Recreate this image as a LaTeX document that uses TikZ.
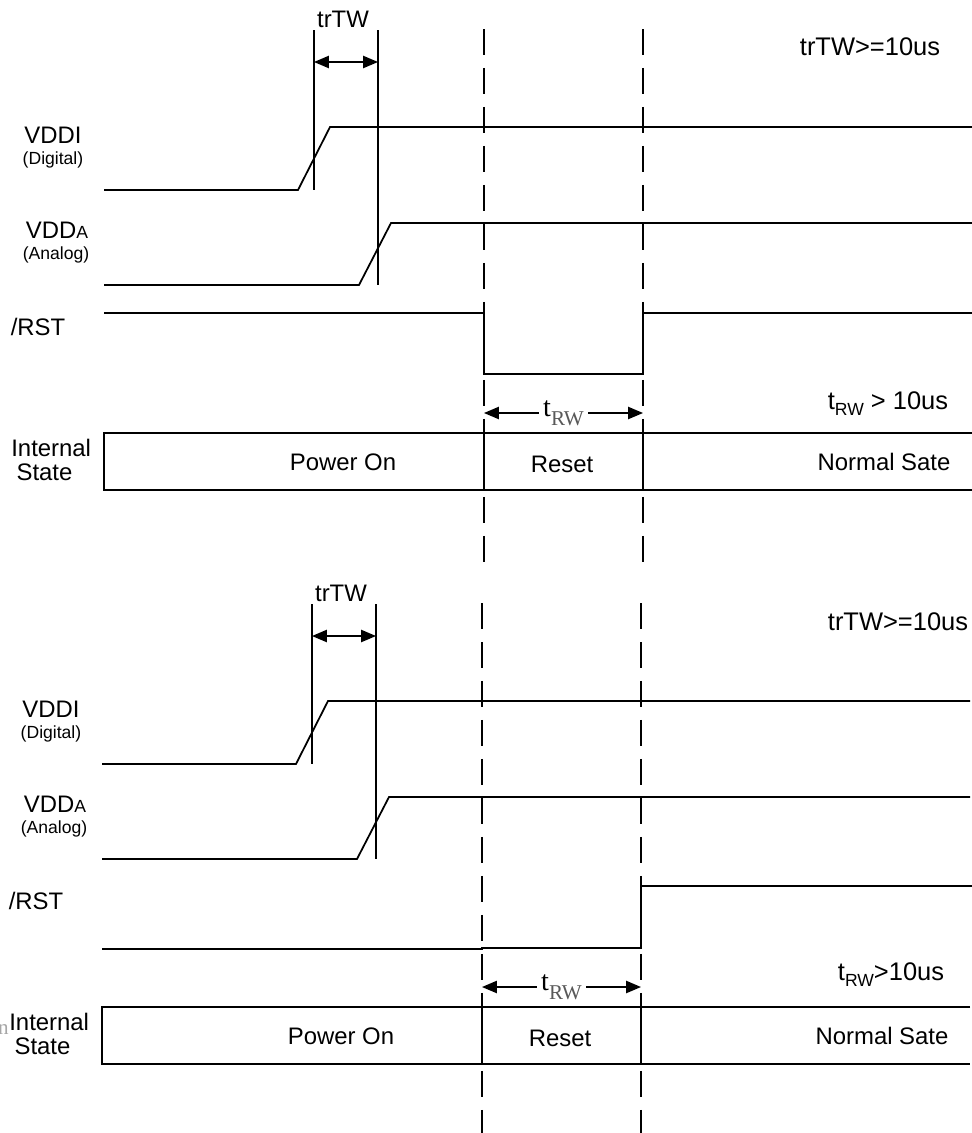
\documentclass[tikz,border=0pt]{standalone}
\usepackage{fontspec}
\setmainfont{Liberation Sans}
\newfontfamily\timesrw{Liberation Serif}
\usetikzlibrary{arrows.meta}
\tikzset{
  % signal trace
  wave/.style={line width=1pt, line join=miter},
  % thin timing marker
  marker/.style={line width=0.8pt},
  % long dashed guide through the rows
  guide/.style={line width=1.7pt, dash pattern=on 0.52cm off 0.26cm},
  % double headed dimension arrow
  dimarrow/.style={line width=0.8pt,
                   {Triangle[length=8.5pt,width=7pt]}-{Triangle[length=8.5pt,width=7pt]}},
  lbl/.style={font=\fontsize{13.6}{16}\selectfont, inner sep=0pt},
  sublbl/.style={font=\fontsize{10}{12}\selectfont, inner sep=0pt},
  note/.style={font=\fontsize{14.5}{17}\selectfont, inner sep=0pt},
}
\newcommand{\rwsub}{\raisebox{-3.5pt}{\fontsize{10}{11}\selectfont RW}}
\newcommand{\serifrw}{{\timesrw\fontsize{16}{18}\selectfont t\raisebox{-5pt}{\color{black!65}\fontsize{12}{13}\selectfont RW}}}
% supply rails, trTW window, guides and state box (#1 = name prefix)
\newcommand{\powerrails}[1]{%
  \coordinate (#1g1) at (484,29);
  \coordinate (#1g2) at (643,29);
  \coordinate (#1m1) at (314,30);
  \coordinate (#1m2) at (378,30);
  \draw[guide] (#1g1) -- ++(0,533);
  \draw[guide] (#1g2) -- ++(0,533);
  % trTW window
  \draw[marker] (#1m1) -- (314,190);
  \draw[marker] (#1m2) -- (378,285);
  \draw[dimarrow] (314,62) -- (378,62);
  \node[lbl] (#1trtw) at (343,19) {trTW};
  % VDDI and VDDA
  \draw[wave] (104,190) -- (298,190) -- (330,127) -- (972,127);
  \draw[wave] (104,285) -- (359,285) -- (391,223) -- (972,223);
  \node[lbl]    (#1vddi) at (53,135) {VDDI};
  \node[sublbl] (#1dig)  at (53,160) {(Digital)};
  \node[lbl]    (#1vdda) at (57,230) {VDD{\fontsize{10}{12}\selectfont A}};
  \node[sublbl] (#1ana)  at (56,255) {(Analog)};
  \node[lbl]    (#1rst)  at (38,327) {/RST};
  % internal state box
  \draw[wave] (972,433) -- (104,433) -- (104,490) -- (972,490);
  \draw[wave] (484,433) -- (484,490);
  \draw[wave] (643,433) -- (643,490);
  \node[lbl, align=left, anchor=west] (#1int) at (11,460)
    {Internal\\[-2pt]\hspace*{3pt}State};
  \node[lbl] (#1pwr)  at (343,462) {Power On};
  \node[lbl] (#1rset) at (562,464) {Reset};
  \node[lbl] (#1norm) at (884,462) {Normal Sate};
  % tRW width
  \coordinate (#1r1) at (484,413);
  \coordinate (#1r2) at (643,413);
  \draw[dimarrow] (#1r1) -- node[fill=white, inner sep=2.5pt] (#1trw) {\serifrw} (#1r2);
}

\begin{document}
\begin{tikzpicture}[x=0.02cm, y=-0.02cm]
  \useasboundingbox (0,0) rectangle (972,1133);
  % upper case: reset pulse after power up
  \powerrails{a}
  \draw[wave] (104,313) -- (484,313) -- (484,374) -- (643,374)
    -- (643,313) -- (972,313);
  \node[note] (aspec) at (870,47) {trTW>=10us};
  \node[note] (arw)   at (888,404) {t\rwsub{} > 10us};

  % lower case: reset held low from power up
  \begin{scope}[shift={(-2,574)}]
    \powerrails{b}
    \draw[wave] (104,375) -- (484,375) -- (484,374) -- (643,374)
      -- (643,312) -- (974,312);
    \node[note] (bspec) at (900,48) {trTW>=10us};
    \node[note] (brw)   at (893,401) {t\rwsub{}>10us};
  \end{scope}
  \node[font=\timesrw\fontsize{12}{14}\selectfont, text=black!35,
        anchor=east, inner sep=0pt] (bcut) at (9,1030) {n};
\end{tikzpicture}
\end{document}
